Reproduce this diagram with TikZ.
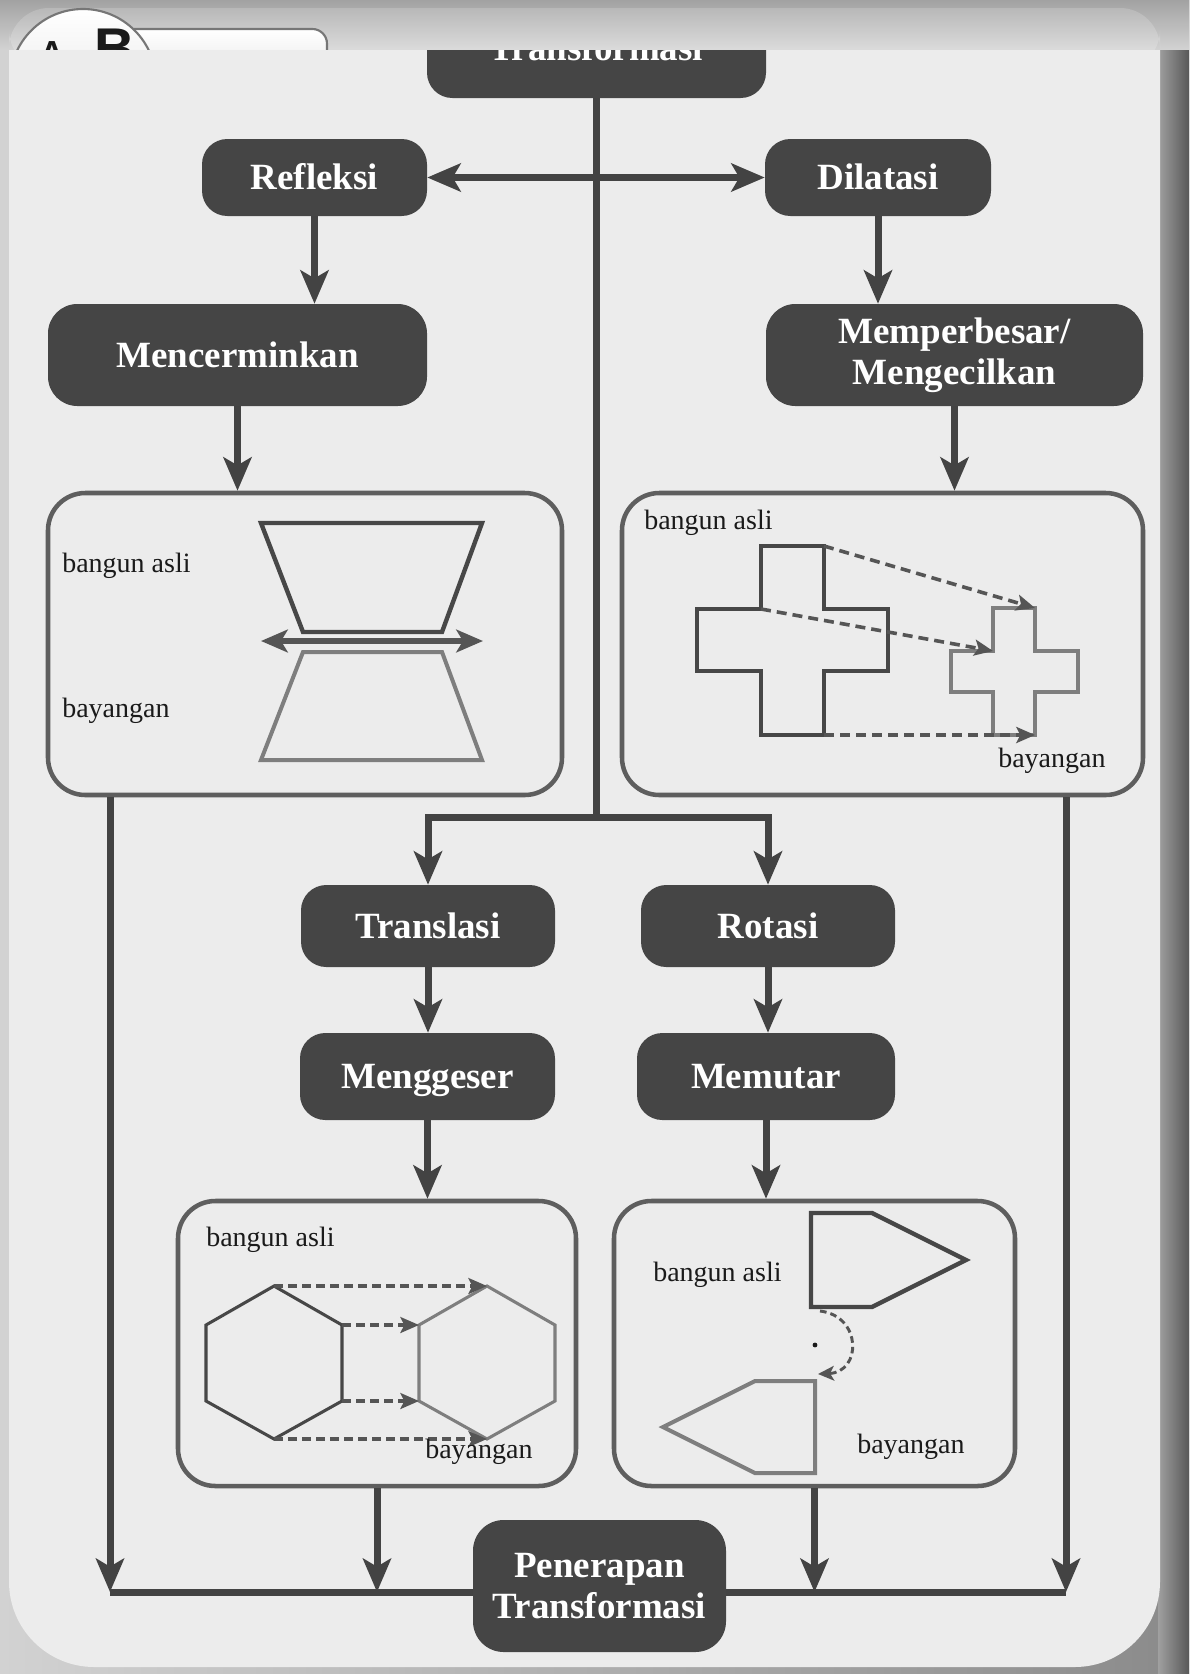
\documentclass[tikz,border=0pt]{standalone}
\usepackage{fontspec}
\setmainfont{Liberation Serif}
\newfontfamily\badgefont{Liberation Sans}
\usetikzlibrary{arrows.meta}
\definecolor{boxc}{HTML}{454545}
\definecolor{connc}{HTML}{434343}
\definecolor{iborder}{HTML}{5E5E5E}
\definecolor{paneltone}{HTML}{ECECEC}
\definecolor{shpdark}{HTML}{474747}
\definecolor{shplight}{HTML}{7E7E7E}
\definecolor{dashc}{HTML}{555555}
\definecolor{txtc}{HTML}{1A1A1A}
\definecolor{bgleft}{HTML}{D2D2D2}
\definecolor{bgright}{HTML}{8A8A8A}
\definecolor{shadowl}{HTML}{A0A0A0}
\definecolor{shadowr}{HTML}{585858}
\definecolor{hdtop}{HTML}{B8B8B8}
\definecolor{bandtop}{HTML}{A2A2A2}
\definecolor{badgeline}{HTML}{767676}
\definecolor{badgefill}{HTML}{DCDCDC}
\begin{document}
\begin{tikzpicture}[x=0.75pt,y=-0.75pt,
  dbox/.style={fill=boxc, rounded corners=19pt, text=white,
    font=\bfseries\fontsize{27.75}{30.5}\selectfont, inner sep=0pt},
  dsingle/.style={dbox, text height=18.4pt, text depth=0pt},
  ibox/.style={draw=iborder, line width=3.4pt, rounded corners=28pt, inner sep=0pt},
  conn/.style={draw=connc, line width=5.25pt},
  arr/.style={conn, -{Stealth[length=25pt,width=21pt,inset=6pt]}},
  lbl/.style={text=txtc, font=\fontsize{21}{24}\selectfont, inner sep=0pt, anchor=base west},
  dasharr/.style={draw=dashc, line width=2.7pt, dash pattern=on 7.5pt off 4.5pt,
    -{Stealth[length=14pt,width=12pt,inset=3pt]}},
  shpd/.style={draw=shpdark, line width=3.3pt, line join=miter},
  shpl/.style={draw=shplight, line width=3pt, line join=miter}
]
\useasboundingbox (0,0) rectangle (1189,1674);
% background
\shade[left color=bgleft, right color=bgright] (0,0) rectangle (1189,1674);
\shade[left color=shadowl, right color=shadowr] (1158,0) rectangle (1189,1674);
\fill[paneltone, rounded corners=64pt] (9,-200) rectangle (1160,1667);

% dark boxes
\node[dsingle, minimum width=254.25pt, minimum height=75pt] (title) at (596.5,48) {Transformasi};
\node[dsingle, minimum width=168.75pt, minimum height=57.75pt] (refl) at (314.5,177.5) {Refleksi};
\node[dsingle, minimum width=169.5pt, minimum height=57.75pt] (dil) at (878,177.5) {Dilatasi};
\node[dsingle, rounded corners=22pt, minimum width=284.25pt, minimum height=76.5pt] (mirr) at (237.5,355) {Mencerminkan};
\node[dbox, rounded corners=22pt, align=center, minimum width=282.75pt, minimum height=76.5pt] (perb) at (954.5,355) {Memperbesar/\\Mengecilkan};
\node[dsingle, minimum width=190.5pt, minimum height=61.5pt] (transl) at (428,926) {Translasi};
\node[dsingle, minimum width=190.5pt, minimum height=61.5pt] (rot) at (768,926) {Rotasi};
\node[dsingle, minimum width=191.25pt, minimum height=65.25pt] (mengg) at (427.5,1076.5) {Menggeser};
\node[dsingle, minimum width=193.5pt, minimum height=65.25pt] (memu) at (766,1076.5) {Memutar};
\node[dbox, rounded corners=23pt, align=center, minimum width=189.75pt, minimum height=99pt] (pen) at (599.5,1586) {Penerapan\\Transformasi};

% image boxes
\node[ibox, minimum width=385.5pt, minimum height=226.5pt] (lbox) at (305,644) {};
\node[ibox, minimum width=390.75pt, minimum height=226.5pt] (rbox) at (882.5,644) {};
\node[ibox, minimum width=298.5pt, minimum height=213.75pt] (hbox) at (377,1343.5) {};
\node[ibox, minimum width=300.75pt, minimum height=213.75pt] (rotbox) at (814.5,1343.5) {};

% connectors
\coordinate (fork) at (596.5,817);
\coordinate (bl) at (110,1592);
\coordinate (br) at (1066,1592);
\draw[conn] (title.south) -- (fork);
\draw[arr, line join=miter] (fork) -| (transl.north);
\draw[arr, line join=miter] (fork) -| (rot.north);
\draw[conn, {Stealth[length=25pt,width=21pt,inset=6pt]}-{Stealth[length=25pt,width=21pt,inset=6pt]}] (refl.east) -- (dil.west);
\draw[arr] (refl.south) -- (refl.south |- mirr.north);
\draw[arr] (dil.south) -- (dil.south |- perb.north);
\draw[arr] (mirr.south) -- (mirr.south |- lbox.north);
\draw[arr] (perb.south) -- (perb.south |- rbox.north);
\draw[arr] (transl.south) -- (transl.south |- mengg.north);
\draw[arr] (rot.south) -- (rot.south |- memu.north);
\draw[arr] (mengg.south) -- (mengg.south |- hbox.north);
\draw[arr] (memu.south) -- (memu.south |- rotbox.north);
\draw[arr] (lbox.south -| bl) -- (bl);
\draw[arr] (rbox.south -| br) -- (br);
\draw[arr] (hbox.south) -- (hbox.south |- bl);
\draw[arr] (rotbox.south) -- (rotbox.south |- bl);
\draw[conn, line cap=square] (bl) -- (bl -| pen.west);
\draw[conn, line cap=square] (bl -| pen.east) -- (br);

% reflection box content
\node[lbl] (la1) at (62,572) {bangun asli};
\node[lbl] (la2) at (62,717) {bayangan};
\draw[shpd] (261,523) -- (482,523) -- (442,632) -- (303,632) -- cycle;
\draw[shpl] (303,652) -- (442,652) -- (482,760) -- (261,760) -- cycle;
\draw[draw=dashc, line width=3.8pt, {Stealth[length=20pt,width=17pt,inset=5pt]}-{Stealth[length=20pt,width=17pt,inset=5pt]}] (261,641) -- (483,641);

% dilation box content
\node[lbl] (ra1) at (644,529) {bangun asli};
\node[lbl] (ra2) at (998,767) {bayangan};
\draw[shpd] (761,546) -- (824,546) -- (824,609) -- (888,609) -- (888,671) -- (824,671) -- (824,735) -- (761,735) -- (761,671) -- (697,671) -- (697,609) -- (761,609) -- cycle;
\draw[shpl] (993,608) -- (1035,608) -- (1035,651) -- (1078,651) -- (1078,692) -- (1035,692) -- (1035,735) -- (993,735) -- (993,692) -- (951,692) -- (951,651) -- (993,651) -- cycle;
\draw[dasharr] (824,546) -- (1035,608);
\draw[dasharr] (761,609) -- (993,651);
\draw[dasharr] (824,735) -- (1035,735);

% translation box content
\node[lbl] (ha1) at (206,1246) {bangun asli};
\draw[draw=shpdark, line width=2.3pt] (274,1286) -- (342,1325) -- (342,1401) -- (274,1439) -- (206,1401) -- (206,1325) -- cycle;
\draw[draw=shplight, line width=2.3pt] (487,1286) -- (555,1325) -- (555,1401) -- (487,1439) -- (419,1401) -- (419,1325) -- cycle;
\draw[dasharr, line width=2.3pt, dash pattern=on 6.5pt off 4pt] (274,1286) -- (487,1286);
\draw[dasharr, line width=2.3pt, dash pattern=on 6.5pt off 4pt] (342,1325) -- (419,1325);
\draw[dasharr, line width=2.3pt, dash pattern=on 6.5pt off 4pt] (342,1401) -- (419,1401);
\draw[dasharr, line width=2.3pt, dash pattern=on 6.5pt off 4pt] (274,1439) -- (487,1439);
\node[lbl] (ha2) at (425,1458) {bayangan};

% rotation box content
\node[lbl] (ta1) at (653,1281) {bangun asli};
\node[lbl] (ta2) at (857,1453) {bayangan};
\draw[shpd] (811,1213) -- (872,1213) -- (966,1260) -- (872,1307) -- (811,1307) -- cycle;
\draw[shpl] (815,1381) -- (755,1381) -- (663,1427) -- (755,1473) -- (815,1473) -- cycle;
\fill[txtc] (815,1345) circle[radius=1.8pt];
\draw[draw=dashc, line width=2.2pt, dash pattern=on 5pt off 3pt, -{Stealth[length=12pt,width=11pt,inset=3pt]}]
  (820,1311) .. controls (862,1316) and (862,1372) .. (818,1374);

% top band (cut-off header)
\shade[top color=bandtop, bottom color=bgleft] (0,0) rectangle (1189,49);
\begin{scope}
\clip (0,0) rectangle (1189,49);
\shade[top color=hdtop, bottom color=paneltone, rounded corners=30pt] (9,8) rectangle (1160,70);
\shade[draw=badgeline, line width=1.6pt, top color=white, bottom color=badgefill, rounded corners=11pt] (120,29) rectangle (327,100);
\shade[draw=badgeline, line width=1.6pt, top color=white, bottom color=badgefill] (83,82) circle[radius=54.75pt];
\node[font=\badgefont\bfseries\fontsize{25}{25}\selectfont, text=txtc, anchor=base, inner sep=0pt] (badgeA) at (52,64) {A};
\node[font=\badgefont\bfseries\fontsize{42}{42}\selectfont, text=txtc, anchor=base west, inner sep=0pt] (badgeB) at (94,67) {B};
\end{scope}
\end{tikzpicture}
\end{document}
